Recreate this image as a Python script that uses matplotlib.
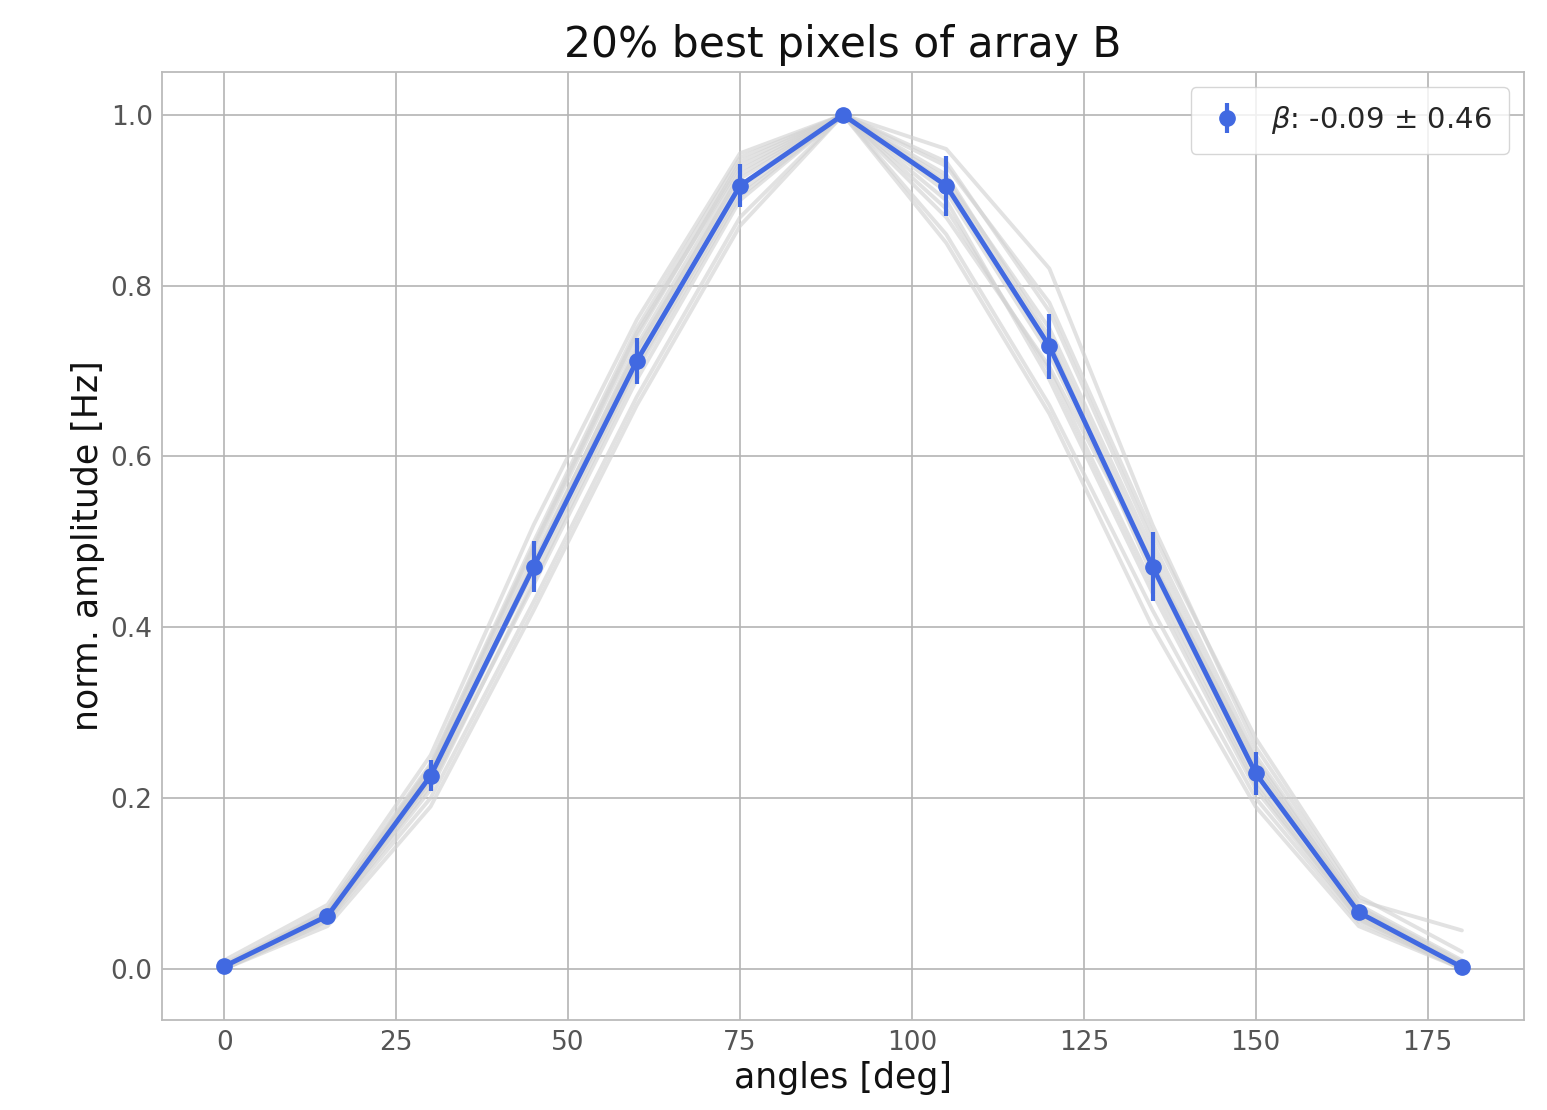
import numpy as np
import matplotlib
matplotlib.use("Agg")
import matplotlib.pyplot as plt
import seaborn as sns

sns.set_style("whitegrid")
plt.rcParams['font.family'] = ['DejaVu Sans']

angles = [0, 15, 30, 45, 60, 75, 90, 105, 120, 135, 150, 165, 180]

# mean response and its spread
mean_amp = [0.003, 0.062, 0.226, 0.471, 0.712, 0.917, 1.0, 0.917, 0.729, 0.471, 0.229, 0.066, 0.002]
err_amp = [0.004, 0.008, 0.018, 0.030, 0.027, 0.025, 0.0, 0.035, 0.038, 0.040, 0.025, 0.008, 0.003]

# single pixels (gray)
pix_01 = [0.000, 0.060, 0.220, 0.470, 0.720, 0.930, 1.0, 0.930, 0.740, 0.480, 0.230, 0.065, 0.000]
pix_02 = [0.005, 0.070, 0.240, 0.500, 0.750, 0.950, 1.0, 0.960, 0.820, 0.520, 0.260, 0.080, 0.045]
pix_03 = [0.000, 0.055, 0.200, 0.430, 0.670, 0.880, 1.0, 0.860, 0.660, 0.420, 0.200, 0.055, 0.000]
pix_04 = [0.003, 0.065, 0.235, 0.490, 0.740, 0.945, 1.0, 0.945, 0.770, 0.500, 0.250, 0.075, 0.010]
pix_05 = [0.000, 0.058, 0.215, 0.450, 0.690, 0.900, 1.0, 0.890, 0.700, 0.450, 0.215, 0.060, 0.000]
pix_06 = [0.010, 0.075, 0.250, 0.520, 0.760, 0.955, 1.0, 0.910, 0.720, 0.470, 0.235, 0.070, 0.005]
pix_07 = [0.000, 0.050, 0.190, 0.420, 0.660, 0.870, 1.0, 0.850, 0.650, 0.400, 0.190, 0.050, 0.000]
pix_08 = [0.004, 0.062, 0.228, 0.480, 0.725, 0.925, 1.0, 0.940, 0.780, 0.510, 0.270, 0.085, 0.020]
pix_09 = [0.002, 0.068, 0.232, 0.465, 0.705, 0.910, 1.0, 0.900, 0.690, 0.440, 0.210, 0.058, 0.000]
pix_10 = [0.000, 0.060, 0.222, 0.475, 0.730, 0.935, 1.0, 0.925, 0.750, 0.490, 0.240, 0.068, 0.004]
pix_11 = [0.006, 0.066, 0.238, 0.495, 0.745, 0.940, 1.0, 0.920, 0.735, 0.460, 0.220, 0.062, 0.000]
pix_12 = [0.000, 0.056, 0.210, 0.455, 0.700, 0.905, 1.0, 0.880, 0.705, 0.475, 0.245, 0.072, 0.008]
pixels = [pix_01, pix_02, pix_03, pix_04, pix_05, pix_06,
          pix_07, pix_08, pix_09, pix_10, pix_11, pix_12]

beta_label = r'$\beta$: -0.09 $\pm$ 0.46'

fig = plt.figure(figsize=(15.47, 11.10), dpi=100)
ax = fig.add_axes([0.105, 0.081, 0.880, 0.854])

for p in pixels:
    ax.plot(angles, p, color='lightgray', alpha=0.65, lw=2.8, zorder=2)

# line through the means, then points with error bars (legend shows only these)
ax.plot(angles, mean_amp, color='royalblue', lw=3.5, zorder=3)
ax.errorbar(angles, mean_amp, yerr=err_amp, fmt='o', color='royalblue',
            markersize=11, elinewidth=3, capsize=0, zorder=4,
            label=beta_label)

ax.set_xlim(-9, 189)
ax.set_ylim(-0.06, 1.05)
ax.set_xticks(np.arange(0, 176, 25))
ax.set_yticks([0.0, 0.2, 0.4, 0.6, 0.8, 1.0])
ax.grid(True, color='#b4b4b4', lw=1.2)
ax.tick_params(labelsize=19, labelcolor='#555555')
for s in ax.spines.values():
    s.set_color('#bbbbbb')
    s.set_linewidth(1.3)

ax.set_title('20% best pixels of array B', fontsize=30.5, color='#111111', pad=11)
ax.set_xlabel('angles [deg]', fontsize=25, color='#111111')
ax.set_ylabel('norm. amplitude [Hz]', fontsize=25, color='#111111')

ax.legend(loc='upper right', fontsize=21, frameon=True, borderpad=0.6,
          handlelength=1.3, handletextpad=0.85)

fig.savefig('out.png', dpi=100)
